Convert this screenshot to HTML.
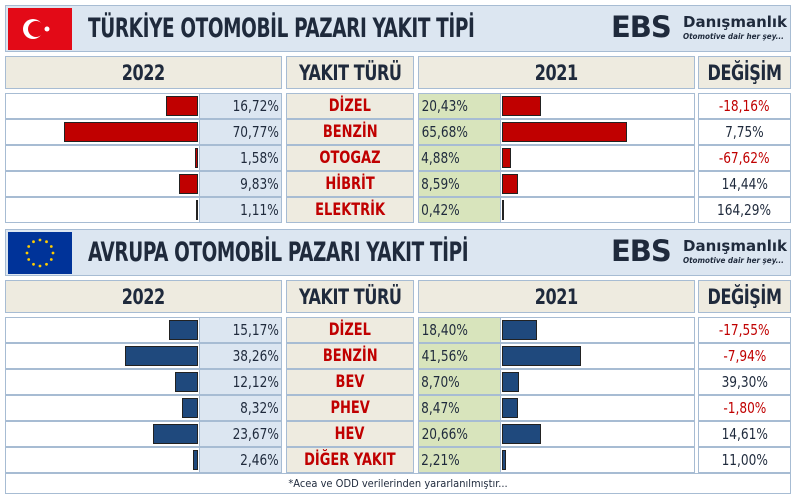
<!DOCTYPE html>
<html><head><meta charset="utf-8">
<style>
body{margin:0;width:797px;height:498px;background:#fff;position:relative;overflow:hidden;font-family:"DejaVu Sans Condensed","Liberation Sans",sans-serif;color:#1f2a3c}
.abs{position:absolute;box-sizing:border-box}
.hdr{background:#dce6f1;border:1px solid #a7bcd3}
.cell{border:1px solid #a7bcd3;display:flex;align-items:center;justify-content:center;font-size:14px}
.title{font-weight:bold;font-size:27px;letter-spacing:-0.5px;transform:scaleX(0.76);transform-origin:left center;white-space:nowrap}
.colh{background:#eeebe0;font-weight:bold;font-size:21px;letter-spacing:-0.5px}
.colh span{display:inline-block;transform:scaleX(0.85)}
.logo{font-weight:bold;color:#1f2a3c}
.num span{display:inline-block;transform:scaleX(0.9);font-size:15px}
</style></head><body>
<div id="root"></div>
<script>
const trCats=["DİZEL","BENZİN","OTOGAZ","HİBRİT","ELEKTRİK"];
const tr2022=[16.72,70.77,1.58,9.83,1.11];
const tr2021=[20.43,65.68,4.88,8.59,0.42];
const trChange=[-18.16,7.75,-67.62,14.44,164.29];
const euCats=["DİZEL","BENZİN","BEV","PHEV","HEV","DİĞER YAKIT"];
const eu2022=[15.17,38.26,12.12,8.32,23.67,2.46];
const eu2021=[18.40,41.56,8.70,8.47,20.66,2.21];
const euChange=[-17.55,-7.94,39.30,-1.80,14.61,11.00];

const root=document.getElementById('root');
function el(x,y,w,h,cls,html){const d=document.createElement('div');d.className='abs '+(cls||'');d.style.left=x+'px';d.style.top=y+'px';d.style.width=w+'px';d.style.height=h+'px';if(html!==undefined)d.innerHTML=html;root.appendChild(d);return d;}
const fmt=v=>'<span>'+v.toFixed(2).replace('.',',')+'%</span>';
const xScale=v=>v*1.9;

function section(y0,title,flag,cats,a,b,ch,barColor,rowY){
  const h=el(5,y0,786,47,'hdr');
  
  const f=el(8,y0+3,64,42,'',flag);
  
  const t=el(88,y0+6,520,34,'title','<span style="line-height:36px">'+title+'</span>');
  
  const lg=el(611,y0+8,180,36,'logo','<span style="position:absolute;left:0;top:-3px;font-size:29px;font-family:\'DejaVu Sans\',sans-serif;font-weight:900;letter-spacing:-1px">EBS</span><span style="position:absolute;left:72px;top:0;font-size:15px;font-family:\'DejaVu Sans\',sans-serif">Danışmanlık</span><span style="position:absolute;left:72px;top:19px;font-size:8px;font-style:italic;white-space:nowrap">Otomotive dair her şey...</span>');
  
  const hy=y0+51;
  [[5,277,'2022'],[286,128,'YAKIT TÜRÜ'],[418,277,'2021'],[698,93,'DEĞİŞİM']].forEach((c,i)=>{
    const d=el(c[0],hy,c[1],33,'cell colh','<span>'+c[2]+'</span>');
    
  });
  cats.forEach((c,i)=>{
    const y=rowY+i*26;
    const w1=el(5,y,195,26,'cell');
    const bw=xScale(a[i]);
    const b1=el(198-bw,y+3,bw,20,'');b1.style.background=barColor;b1.style.border='1px solid #222';
    
    const p1=el(199,y,83,26,'cell num',fmt(a[i]));p1.style.background='#dce6f1';p1.style.justifyContent='flex-end';p1.style.paddingRight='0px';
    
    const fc=el(286,y,128,26,'cell','<span style="display:inline-block;transform:scaleX(0.85)">'+c+'</span>');fc.style.background='#eeebe0';fc.style.color='#c00000';fc.style.fontWeight='bold';fc.style.fontSize='17px';
    
    const p2=el(418,y,83,26,'cell num',fmt(b[i]));p2.style.background='#d8e4bc';p2.style.justifyContent='flex-start';p2.style.paddingLeft='0px';
    
    const w2=el(500,y,195,26,'cell');
    const bw2=xScale(b[i]);
    const b2=el(502,y+3,bw2,20,'');b2.style.background=barColor;b2.style.border='1px solid #222';
    
    const cc=el(698,y,93,26,'cell num',fmt(ch[i]));if(ch[i]<0)cc.style.color='#c00000';
    
  });
}
const trFlag='<svg width="64" height="42"><rect width="64" height="42" fill="#e30a17"/><circle cx="25" cy="21" r="10" fill="#fff"/><circle cx="28" cy="21" r="8" fill="#e30a17"/><circle cx="39" cy="21" r="2.5" fill="#fff"/></svg>';
let stars='';for(let k=0;k<12;k++){const an=k*Math.PI/6;stars+='<circle cx="'+(32+13*Math.cos(an)).toFixed(1)+'" cy="'+(21+13*Math.sin(an)).toFixed(1)+'" r="1.4" fill="#ffcc00"/>';}
const euFlag='<svg width="64" height="42"><rect width="64" height="42" fill="#003399"/>'+stars+'</svg>';
section(5,'TÜRKİYE OTOMOBİL PAZARI YAKIT TİPİ',trFlag,trCats,tr2022,tr2021,trChange,'#c00000',93);
section(229,'AVRUPA OTOMOBİL PAZARI YAKIT TİPİ',euFlag,euCats,eu2022,eu2021,euChange,'#1f497d',317);
const fn=el(5,473,786,21,'cell','*Acea ve ODD verilerinden yararlanılmıştır...');fn.style.fontSize='11px';

</script>
</body></html>
